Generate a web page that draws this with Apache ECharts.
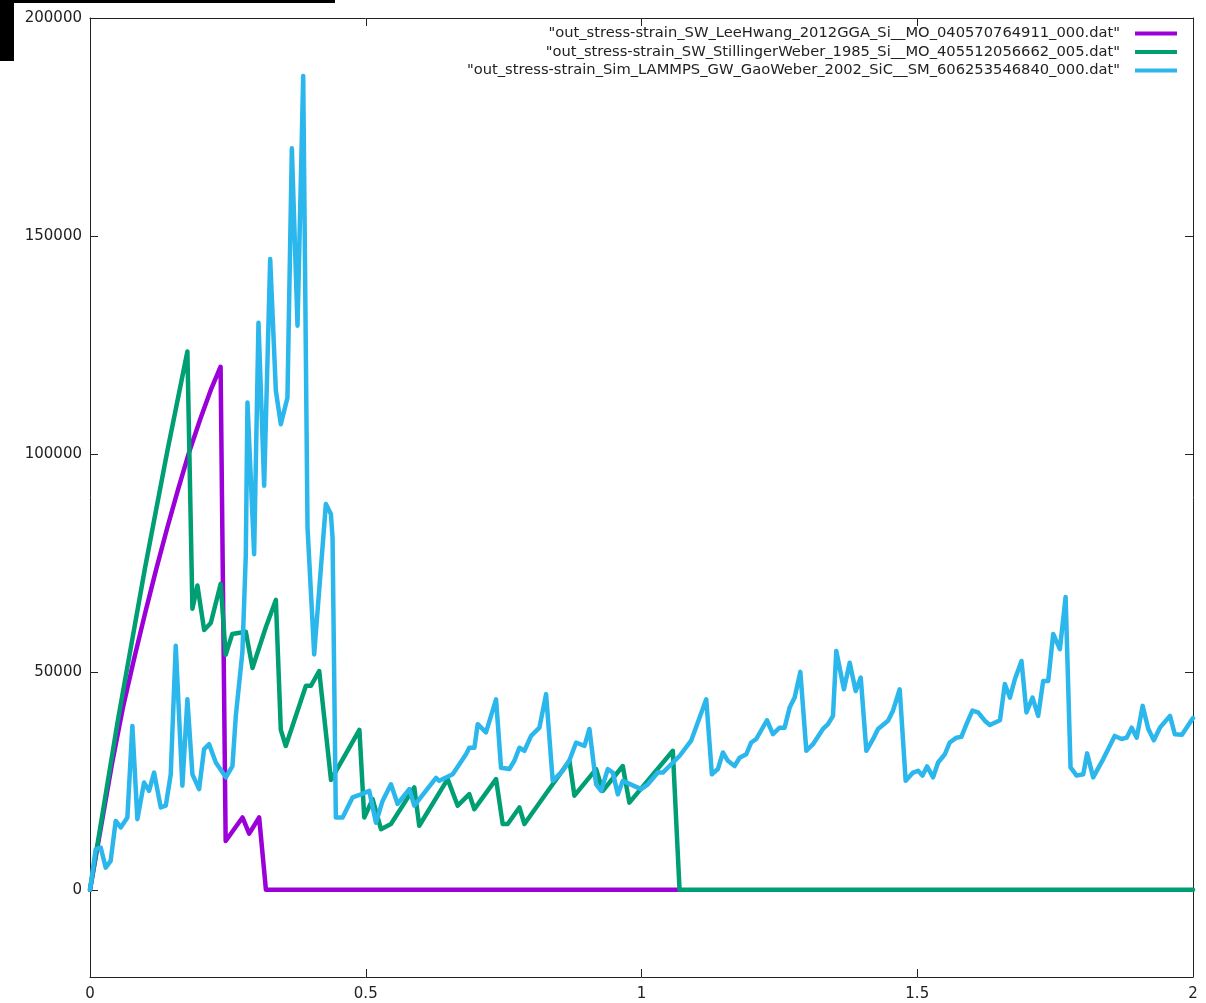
<!DOCTYPE html>
<html>
<head>
<meta charset="utf-8">
<script src="https://cdn.jsdelivr.net/npm/echarts@6/dist/echarts.min.js"></script>
<style>
  html, body { margin: 0; padding: 0; background: #fff; }
  #chart { width: 1206px; height: 1003px; }
</style>
</head>
<body>
<div id="chart"></div>
<script>
// ---- Data (strain, stress) ----
const seriesNames = [
  '"out_stress-strain_SW_LeeHwang_2012GGA_Si__MO_040570764911_000.dat"',
  '"out_stress-strain_SW_StillingerWeber_1985_Si__MO_405512056662_005.dat"',
  '"out_stress-strain_Sim_LAMMPS_GW_GaoWeber_2002_SiC__SM_606253546840_000.dat"'
];

const leeHwang = [
  [0,0],[0.02,14500],[0.04,29000],[0.06,42000],[0.08,53000],[0.10,63500],
  [0.12,73500],[0.14,83000],[0.16,92000],[0.18,100500],[0.20,108000],
  [0.22,115000],[0.2368,120000],[0.246,11200],[0.2765,16600],[0.2886,12900],
  [0.3067,16600],[0.319,0],[1.069,0]
];

const stillingerWeber = [
  [0,0],[0.05,38500],[0.10,74000],[0.14,100500],[0.1766,123500],[0.1857,64500],
  [0.1948,69800],[0.207,59600],[0.219,61200],[0.237,70200],[0.246,53900],
  [0.258,58700],[0.2825,59200],[0.2946,50900],[0.319,60300],[0.337,66500],
  [0.346,36700],[0.355,33000],[0.3915,46800],[0.4006,46800],[0.4156,50200],
  [0.437,25200],[0.4885,36700],[0.4973,16600],[0.5124,20800],[0.5276,13900],
  [0.5457,15100],[0.588,23500],[0.597,14700],[0.6485,25400],[0.6667,19300],
  [0.6878,21950],[0.6969,18500],[0.7363,25400],[0.7483,15100],[0.7574,15100],
  [0.7786,18900],[0.7877,15100],[0.8693,29600],[0.8784,21600],[0.9177,27700],
  [0.9298,22700],[0.966,28400],[0.978,20000],[1.0568,31900],[1.069,0],[2,0]
];

const gaoWeber = [
  [0,0],[0.0103,9300],[0.0194,9700],[0.0285,5100],[0.0375,6650],[0.0466,15800],
  [0.0557,14300],[0.0678,16600],[0.0768,37600],[0.0859,16200],[0.098,24600],
  [0.1071,22700],[0.1162,26900],[0.1283,18900],[0.1374,19300],[0.1464,26500],
  [0.1555,56000],[0.1675,23900],[0.1766,43700],[0.1857,26500],[0.1978,23100],
  [0.2069,32300],[0.216,33400],[0.2281,29200],[0.2463,25800],[0.2583,28400],
  [0.2644,39900],[0.2764,54600],[0.2825,76800],[0.2855,111800],[0.2976,77000],
  [0.3055,130100],[0.3158,92700],[0.3267,144700],[0.337,114500],[0.346,106800],
  [0.358,112900],[0.366,170100],[0.3763,129400],[0.3866,186700],[0.3944,83100],
  [0.4065,54000],[0.4277,88500],[0.4368,86200],[0.4398,80800],[0.4458,16600],
  [0.458,16600],[0.476,21200],[0.4913,21900],[0.5063,22700],[0.5185,15400],
  [0.5305,20400],[0.5457,24200],[0.5578,19700],[0.579,23100],[0.588,19300],
  [0.6274,25700],[0.6334,25000],[0.6576,26500],[0.6818,31100],[0.6878,32600],
  [0.697,32600],[0.703,38000],[0.718,36100],[0.7363,43700],[0.7453,28000],
  [0.7604,27700],[0.7695,29600],[0.7786,32600],[0.7877,31900],[0.7998,35300],
  [0.8149,37200],[0.827,44900],[0.839,25000],[0.857,27300],[0.869,29600],
  [0.8815,33800],[0.8966,33000],[0.9056,36900],[0.9177,24200],[0.9268,22700],
  [0.9388,27700],[0.948,26900],[0.957,21900],[0.9661,25000],[0.9993,23100],
  [1.0115,24200],[1.0296,26900],[1.0387,26900],[1.0689,30700],[1.09,34200],
  [1.1174,43700],[1.1276,26500],[1.1385,27700],[1.1476,31500],[1.1566,29600],
  [1.1688,28400],[1.1779,30300],[1.19,31100],[1.199,33800],[1.2081,34600],
  [1.2275,38900],[1.2383,35700],[1.2505,37200],[1.2595,37200],[1.2686,41800],
  [1.2777,44100],[1.288,50000],[1.2989,31900],[1.311,33400],[1.329,36900],
  [1.3382,38000],[1.3472,39900],[1.3532,54800],[1.367,46000],[1.3775,52100],
  [1.3884,45600],[1.3975,48700],[1.4077,31900],[1.42,34600],[1.4289,36900],
  [1.447,38800],[1.456,41100],[1.4682,46000],[1.479,25000],[1.4924,26900],
  [1.5015,27300],[1.5094,26200],[1.5178,28300],[1.5287,25800],[1.5378,29200],
  [1.55,31100],[1.559,33800],[1.571,34900],[1.58,35100],[1.5893,38000],
  [1.60,41100],[1.6103,40700],[1.6225,38800],[1.6316,37800],[1.65,38900],
  [1.6588,47200],[1.668,44100],[1.677,48300],[1.689,52500],[1.698,40700],
  [1.709,44100],[1.7193,39900],[1.7283,47900],[1.7374,47900],[1.7465,58700],
  [1.7586,55200],[1.769,67200],[1.778,28100],[1.789,26200],[1.801,26500],
  [1.808,31300],[1.819,25800],[1.8372,30000],[1.858,35300],[1.8706,34600],
  [1.8797,34900],[1.8888,37200],[1.898,34900],[1.9087,42200],[1.919,36900],
  [1.929,34300],[1.94,37200],[1.9583,39900],[1.967,35700],[1.98,35600],
  [2.0,39400]
];

const yTickValues = [0, 50000, 100000, 150000, 200000];
const xTickValues = [0, 0.5, 1, 1.5, 2];

// ---- Chart ----
const colors = ['#9b00d9', '#009e73', '#2bb6ec'];
const seriesData = [leeHwang, stillingerWeber, gaoWeber];
const font = 'DejaVu Sans';
const frame = { show: true, onZero: false, lineStyle: { color: '#222', width: 1 } };
const tick = { show: true, inside: true, length: 8, lineStyle: { color: '#222', width: 1 } };
const plain = v => String(v);

const chart = echarts.init(document.getElementById('chart'), null, { renderer: 'canvas' });

const legends = seriesNames.map((n, i) => ({
  data: [n],
  right: 29,
  top: 26 + i * 18.5,
  orient: 'horizontal',
  align: 'right',
  icon: 'rect',
  itemWidth: 42,
  itemHeight: 4,
  padding: 0,
  itemGap: 0,
  selectedMode: false,
  textStyle: { fontFamily: font, fontSize: 14.7, color: '#222', padding: [0, 10, 0, 0] }
}));

const option = {
  backgroundColor: '#fff',
  animation: false,
  color: colors,
  grid: { left: 90, right: 13, top: 18, bottom: 26, containLabel: false },
  legend: legends,
  xAxis: [
    {
      type: 'value', min: 0, max: 2, interval: 0.5, position: 'bottom',
      axisLine: frame,
      axisTick: tick,
      axisLabel: { fontFamily: font, fontSize: 15, color: '#222', margin: 10, formatter: plain },
      splitLine: { show: false }
    },
    {
      type: 'value', min: 0, max: 2, interval: 0.5, position: 'top',
      axisLine: frame,
      axisTick: tick,
      axisLabel: { show: false },
      splitLine: { show: false }
    }
  ],
  yAxis: [
    {
      type: 'value', min: -20000, max: 200000, position: 'left',
      axisLine: frame,
      axisTick: Object.assign({}, tick, { customValues: yTickValues }),
      axisLabel: { fontFamily: font, fontSize: 15, color: '#222', margin: 8, customValues: yTickValues, formatter: plain },
      splitLine: { show: false }
    },
    {
      type: 'value', min: -20000, max: 200000, position: 'right',
      axisLine: frame,
      axisTick: Object.assign({}, tick, { customValues: yTickValues }),
      axisLabel: { show: false, customValues: yTickValues },
      splitLine: { show: false }
    }
  ],
  series: seriesNames.map((n, i) => ({
    name: n,
    type: 'line',
    xAxisIndex: 0,
    yAxisIndex: 0,
    data: seriesData[i],
    showSymbol: false,
    symbol: 'none',
    lineStyle: { color: colors[i], width: 4.5, cap: 'round', join: 'round' },
    itemStyle: { color: colors[i] },
    z: 2 + i
  })),
  graphic: [
    { type: 'rect', shape: { x: 0, y: 0, width: 335, height: 3 }, style: { fill: '#000' }, z: 100 },
    { type: 'rect', shape: { x: 0, y: 0, width: 14, height: 61 }, style: { fill: '#000' }, z: 100 }
  ]
};

chart.setOption(option);
</script>
</body>
</html>
